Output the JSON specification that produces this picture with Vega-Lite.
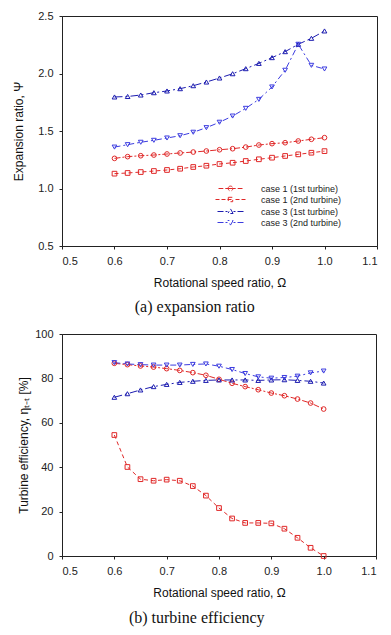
{
  "$schema": "https://vega.github.io/schema/vega-lite/v6.json",
  "padding": {"left": 11, "top": 9, "right": 5, "bottom": 5},
  "background": "white",
  "config": {
    "font": "Liberation Sans",
    "view": {"stroke": "#222", "strokeWidth": 1},
    "axis": {"grid": false, "domainColor": "#222", "tickColor": "#222", "tickSize": 3, "labelFontSize": 11, "labelColor": "#222", "titleFontSize": 12, "titleFontWeight": "normal", "titleColor": "#111", "labelPadding": 6},
    "legend": {"symbolFillColor": "transparent"},
    "concat": {"spacing": 11}
  },
  "datasets": {
    "expansion": [
      {"omega": 0.6, "series": "case 1 (1st turbine)", "value": 1.262},
      {"omega": 0.625, "series": "case 1 (1st turbine)", "value": 1.277},
      {"omega": 0.65, "series": "case 1 (1st turbine)", "value": 1.285},
      {"omega": 0.675, "series": "case 1 (1st turbine)", "value": 1.291},
      {"omega": 0.7, "series": "case 1 (1st turbine)", "value": 1.3},
      {"omega": 0.725, "series": "case 1 (1st turbine)", "value": 1.309},
      {"omega": 0.75, "series": "case 1 (1st turbine)", "value": 1.317},
      {"omega": 0.775, "series": "case 1 (1st turbine)", "value": 1.326},
      {"omega": 0.8, "series": "case 1 (1st turbine)", "value": 1.337},
      {"omega": 0.825, "series": "case 1 (1st turbine)", "value": 1.346},
      {"omega": 0.85, "series": "case 1 (1st turbine)", "value": 1.36},
      {"omega": 0.875, "series": "case 1 (1st turbine)", "value": 1.378},
      {"omega": 0.9, "series": "case 1 (1st turbine)", "value": 1.39},
      {"omega": 0.925, "series": "case 1 (1st turbine)", "value": 1.398},
      {"omega": 0.95, "series": "case 1 (1st turbine)", "value": 1.413},
      {"omega": 0.975, "series": "case 1 (1st turbine)", "value": 1.428},
      {"omega": 1.0, "series": "case 1 (1st turbine)", "value": 1.442},
      {"omega": 0.6, "series": "case 1 (2nd turbine)", "value": 1.129},
      {"omega": 0.625, "series": "case 1 (2nd turbine)", "value": 1.135},
      {"omega": 0.65, "series": "case 1 (2nd turbine)", "value": 1.143},
      {"omega": 0.675, "series": "case 1 (2nd turbine)", "value": 1.152},
      {"omega": 0.7, "series": "case 1 (2nd turbine)", "value": 1.161},
      {"omega": 0.725, "series": "case 1 (2nd turbine)", "value": 1.172},
      {"omega": 0.75, "series": "case 1 (2nd turbine)", "value": 1.187},
      {"omega": 0.775, "series": "case 1 (2nd turbine)", "value": 1.198},
      {"omega": 0.8, "series": "case 1 (2nd turbine)", "value": 1.213},
      {"omega": 0.825, "series": "case 1 (2nd turbine)", "value": 1.224},
      {"omega": 0.85, "series": "case 1 (2nd turbine)", "value": 1.239},
      {"omega": 0.875, "series": "case 1 (2nd turbine)", "value": 1.254},
      {"omega": 0.9, "series": "case 1 (2nd turbine)", "value": 1.268},
      {"omega": 0.925, "series": "case 1 (2nd turbine)", "value": 1.283},
      {"omega": 0.95, "series": "case 1 (2nd turbine)", "value": 1.297},
      {"omega": 0.975, "series": "case 1 (2nd turbine)", "value": 1.311},
      {"omega": 1.0, "series": "case 1 (2nd turbine)", "value": 1.325},
      {"omega": 0.6, "series": "case 3 (1st turbine)", "value": 1.796},
      {"omega": 0.625, "series": "case 3 (1st turbine)", "value": 1.8},
      {"omega": 0.65, "series": "case 3 (1st turbine)", "value": 1.813},
      {"omega": 0.675, "series": "case 3 (1st turbine)", "value": 1.833},
      {"omega": 0.7, "series": "case 3 (1st turbine)", "value": 1.848},
      {"omega": 0.725, "series": "case 3 (1st turbine)", "value": 1.868},
      {"omega": 0.75, "series": "case 3 (1st turbine)", "value": 1.894},
      {"omega": 0.775, "series": "case 3 (1st turbine)", "value": 1.926},
      {"omega": 0.8, "series": "case 3 (1st turbine)", "value": 1.961},
      {"omega": 0.825, "series": "case 3 (1st turbine)", "value": 1.998},
      {"omega": 0.85, "series": "case 3 (1st turbine)", "value": 2.042},
      {"omega": 0.875, "series": "case 3 (1st turbine)", "value": 2.088},
      {"omega": 0.9, "series": "case 3 (1st turbine)", "value": 2.138},
      {"omega": 0.925, "series": "case 3 (1st turbine)", "value": 2.19},
      {"omega": 0.95, "series": "case 3 (1st turbine)", "value": 2.254},
      {"omega": 0.975, "series": "case 3 (1st turbine)", "value": 2.306},
      {"omega": 1.0, "series": "case 3 (1st turbine)", "value": 2.37},
      {"omega": 0.6, "series": "case 3 (2nd turbine)", "value": 1.36},
      {"omega": 0.625, "series": "case 3 (2nd turbine)", "value": 1.381},
      {"omega": 0.65, "series": "case 3 (2nd turbine)", "value": 1.402},
      {"omega": 0.675, "series": "case 3 (2nd turbine)", "value": 1.419},
      {"omega": 0.7, "series": "case 3 (2nd turbine)", "value": 1.439},
      {"omega": 0.725, "series": "case 3 (2nd turbine)", "value": 1.459},
      {"omega": 0.75, "series": "case 3 (2nd turbine)", "value": 1.489},
      {"omega": 0.775, "series": "case 3 (2nd turbine)", "value": 1.529},
      {"omega": 0.8, "series": "case 3 (2nd turbine)", "value": 1.576},
      {"omega": 0.825, "series": "case 3 (2nd turbine)", "value": 1.63},
      {"omega": 0.85, "series": "case 3 (2nd turbine)", "value": 1.697},
      {"omega": 0.875, "series": "case 3 (2nd turbine)", "value": 1.775},
      {"omega": 0.9, "series": "case 3 (2nd turbine)", "value": 1.883},
      {"omega": 0.925, "series": "case 3 (2nd turbine)", "value": 2.028},
      {"omega": 0.95, "series": "case 3 (2nd turbine)", "value": 2.254},
      {"omega": 0.975, "series": "case 3 (2nd turbine)", "value": 2.071},
      {"omega": 1.0, "series": "case 3 (2nd turbine)", "value": 2.039}
    ],
    "efficiency": [
      {"omega": 0.6, "series": "case 1 (1st turbine)", "value": 86.8},
      {"omega": 0.625, "series": "case 1 (1st turbine)", "value": 86.2},
      {"omega": 0.65, "series": "case 1 (1st turbine)", "value": 85.6},
      {"omega": 0.675, "series": "case 1 (1st turbine)", "value": 85.1},
      {"omega": 0.7, "series": "case 1 (1st turbine)", "value": 84.4},
      {"omega": 0.725, "series": "case 1 (1st turbine)", "value": 83.6},
      {"omega": 0.75, "series": "case 1 (1st turbine)", "value": 82.6},
      {"omega": 0.775, "series": "case 1 (1st turbine)", "value": 81.4},
      {"omega": 0.8, "series": "case 1 (1st turbine)", "value": 79.6},
      {"omega": 0.825, "series": "case 1 (1st turbine)", "value": 77.8},
      {"omega": 0.85, "series": "case 1 (1st turbine)", "value": 76.3},
      {"omega": 0.875, "series": "case 1 (1st turbine)", "value": 74.9},
      {"omega": 0.9, "series": "case 1 (1st turbine)", "value": 73.4},
      {"omega": 0.925, "series": "case 1 (1st turbine)", "value": 72.2},
      {"omega": 0.95, "series": "case 1 (1st turbine)", "value": 70.7},
      {"omega": 0.975, "series": "case 1 (1st turbine)", "value": 68.9},
      {"omega": 1.0, "series": "case 1 (1st turbine)", "value": 66.2},
      {"omega": 0.6, "series": "case 1 (2nd turbine)", "value": 54.5},
      {"omega": 0.625, "series": "case 1 (2nd turbine)", "value": 40.1},
      {"omega": 0.65, "series": "case 1 (2nd turbine)", "value": 34.6},
      {"omega": 0.675, "series": "case 1 (2nd turbine)", "value": 33.9},
      {"omega": 0.7, "series": "case 1 (2nd turbine)", "value": 34.4},
      {"omega": 0.725, "series": "case 1 (2nd turbine)", "value": 33.9},
      {"omega": 0.75, "series": "case 1 (2nd turbine)", "value": 31.5},
      {"omega": 0.775, "series": "case 1 (2nd turbine)", "value": 27.2},
      {"omega": 0.8, "series": "case 1 (2nd turbine)", "value": 21.6},
      {"omega": 0.825, "series": "case 1 (2nd turbine)", "value": 16.9},
      {"omega": 0.85, "series": "case 1 (2nd turbine)", "value": 14.9},
      {"omega": 0.875, "series": "case 1 (2nd turbine)", "value": 14.9},
      {"omega": 0.9, "series": "case 1 (2nd turbine)", "value": 14.7},
      {"omega": 0.925, "series": "case 1 (2nd turbine)", "value": 12.3},
      {"omega": 0.95, "series": "case 1 (2nd turbine)", "value": 8.2},
      {"omega": 0.975, "series": "case 1 (2nd turbine)", "value": 3.7},
      {"omega": 1.0, "series": "case 1 (2nd turbine)", "value": 0},
      {"omega": 0.6, "series": "case 3 (1st turbine)", "value": 71.5},
      {"omega": 0.625, "series": "case 3 (1st turbine)", "value": 73.1},
      {"omega": 0.65, "series": "case 3 (1st turbine)", "value": 74.8},
      {"omega": 0.675, "series": "case 3 (1st turbine)", "value": 76.3},
      {"omega": 0.7, "series": "case 3 (1st turbine)", "value": 77.3},
      {"omega": 0.725, "series": "case 3 (1st turbine)", "value": 78.2},
      {"omega": 0.75, "series": "case 3 (1st turbine)", "value": 78.7},
      {"omega": 0.775, "series": "case 3 (1st turbine)", "value": 79.1},
      {"omega": 0.8, "series": "case 3 (1st turbine)", "value": 79.3},
      {"omega": 0.825, "series": "case 3 (1st turbine)", "value": 79.3},
      {"omega": 0.85, "series": "case 3 (1st turbine)", "value": 79.3},
      {"omega": 0.875, "series": "case 3 (1st turbine)", "value": 79.1},
      {"omega": 0.9, "series": "case 3 (1st turbine)", "value": 79.3},
      {"omega": 0.925, "series": "case 3 (1st turbine)", "value": 79.4},
      {"omega": 0.95, "series": "case 3 (1st turbine)", "value": 79.1},
      {"omega": 0.975, "series": "case 3 (1st turbine)", "value": 78.7},
      {"omega": 1.0, "series": "case 3 (1st turbine)", "value": 77.9},
      {"omega": 0.6, "series": "case 3 (2nd turbine)", "value": 87.1},
      {"omega": 0.625, "series": "case 3 (2nd turbine)", "value": 86.5},
      {"omega": 0.65, "series": "case 3 (2nd turbine)", "value": 86.2},
      {"omega": 0.675, "series": "case 3 (2nd turbine)", "value": 86.0},
      {"omega": 0.7, "series": "case 3 (2nd turbine)", "value": 86.0},
      {"omega": 0.725, "series": "case 3 (2nd turbine)", "value": 86.0},
      {"omega": 0.75, "series": "case 3 (2nd turbine)", "value": 86.3},
      {"omega": 0.775, "series": "case 3 (2nd turbine)", "value": 86.5},
      {"omega": 0.8, "series": "case 3 (2nd turbine)", "value": 85.5},
      {"omega": 0.825, "series": "case 3 (2nd turbine)", "value": 84.0},
      {"omega": 0.85, "series": "case 3 (2nd turbine)", "value": 82.2},
      {"omega": 0.875, "series": "case 3 (2nd turbine)", "value": 80.7},
      {"omega": 0.9, "series": "case 3 (2nd turbine)", "value": 80.1},
      {"omega": 0.925, "series": "case 3 (2nd turbine)", "value": 80.4},
      {"omega": 0.95, "series": "case 3 (2nd turbine)", "value": 81.0},
      {"omega": 0.975, "series": "case 3 (2nd turbine)", "value": 82.5},
      {"omega": 1.0, "series": "case 3 (2nd turbine)", "value": 83.3}
    ]
  },
  "vconcat": [
    {
      "width": 315,
      "height": 230,
      "data": {"name": "expansion"},
      "title": {"text": "(a)  expansion  ratio", "orient": "bottom", "font": "Liberation Serif", "fontSize": 16, "fontWeight": "normal", "color": "#111", "anchor": "middle", "frame": "bounds", "offset": 11},
      "encoding": {
        "x": {"field": "omega", "type": "quantitative", "scale": {"domain": [0.5, 1.1], "nice": false, "zero": false}, "axis": {"values": [0.5, 0.6, 0.7, 0.8, 0.9, 1.0, 1.1], "format": ".1f", "title": "Rotational speed ratio, Ω", "titlePadding": 11}},
        "y": {"field": "value", "type": "quantitative", "scale": {"domain": [0.5, 2.5], "nice": false, "zero": false}, "axis": {"values": [0.5, 1.0, 1.5, 2.0, 2.5], "format": ".1f", "title": "Expansion ratio, Ψ", "titlePadding": 13, "minExtent": 24, "maxExtent": 24}},
        "color": {"field": "series", "type": "nominal", "scale": {"domain": ["case 1 (1st turbine)", "case 1 (2nd turbine)", "case 3 (1st turbine)", "case 3 (2nd turbine)"], "range": ["#e02828", "#e02828", "#1c1cb0", "#3c3ce0"]},
          "legend": {"title": null, "orient": "none", "legendX": 164, "legendY": 168, "labelFontSize": 9, "labelColor": "#222", "symbolSize": 16, "labelOffset": 26, "rowPadding": 1, "symbolStrokeWidth": 1, "symbolFillColor": "transparent",
            "symbolType": {"expr": "datum.value === 'case 1 (1st turbine)' ? 'M-6,0H-3.6M-2.6,0H-1.2M1.2,0H2.6M3.6,0H6M-1.2,0A1.2,1.2 0 1,1 1.2,0A1.2,1.2 0 1,1 -1.2,0M-1.2,0H1.2' : datum.value === 'case 1 (2nd turbine)' ? 'M-7.5,0H-5.5M-4.5,0H-2.5M-1.5,0H1.5M2.5,0H4.5M5.5,0H7.5M-1.1,-1.1H1.1V1.1H-1.1Z' : datum.value === 'case 3 (1st turbine)' ? 'M-6.5,0H-3.5M-2.5,0H-1.5M1.5,0H2.5M3.5,0H6.5M0,-1.3L1.3,1H-1.3Z' : 'M-6.5,0H-3.5M-2.5,0H-1.5M1.5,0H2.5M3.5,0H6.5M0,1.3L1.3,-1H-1.3Z'"}}}
      },
      "layer": [
        {"mark": {"type": "line", "strokeWidth": 1},
         "encoding": {"strokeDash": {"field": "series", "type": "nominal", "legend": null, "scale": {"domain": ["case 1 (1st turbine)", "case 1 (2nd turbine)", "case 3 (1st turbine)", "case 3 (2nd turbine)"], "range": [[6, 2, 2, 2], [4, 3], [8, 3, 2, 3], [6, 3, 2, 3]]}}}},
        {"transform": [{"filter": {"field": "series", "equal": "case 1 (1st turbine)"}}], "mark": {"type": "point", "shape": "circle", "filled": false, "size": 22, "strokeWidth": 1, "opacity": 1}},
        {"transform": [{"filter": {"field": "series", "equal": "case 1 (2nd turbine)"}}], "mark": {"type": "point", "shape": "square", "filled": false, "size": 22, "strokeWidth": 1, "opacity": 1}},
        {"transform": [{"filter": {"field": "series", "equal": "case 3 (1st turbine)"}}], "mark": {"type": "point", "shape": "triangle-up", "filled": false, "size": 22, "strokeWidth": 1, "opacity": 1}},
        {"transform": [{"filter": {"field": "series", "equal": "case 3 (2nd turbine)"}}], "mark": {"type": "point", "shape": "triangle-down", "filled": false, "size": 22, "strokeWidth": 1, "opacity": 1}}
      ]
    },
    {
      "width": 314,
      "height": 222,
      "data": {"name": "efficiency"},
      "title": {"text": "(b)  turbine  efficiency", "orient": "bottom", "font": "Liberation Serif", "fontSize": 16, "fontWeight": "normal", "color": "#111", "anchor": "middle", "frame": "bounds", "offset": 12},
      "encoding": {
        "x": {"field": "omega", "type": "quantitative", "scale": {"domain": [0.5, 1.1], "nice": false, "zero": false}, "axis": {"values": [0.5, 0.6, 0.7, 0.8, 0.9, 1.0, 1.1], "format": ".1f", "title": "Rotational speed ratio, Ω", "titlePadding": 11}},
        "y": {"field": "value", "type": "quantitative", "scale": {"domain": [0, 100], "nice": false}, "axis": {"values": [0, 20, 40, 60, 80, 100], "title": "Turbine efficiency, ηₜ₋ₜ [%]", "titlePadding": 4, "minExtent": 28, "maxExtent": 28}},
        "color": {"field": "series", "type": "nominal", "scale": {"domain": ["case 1 (1st turbine)", "case 1 (2nd turbine)", "case 3 (1st turbine)", "case 3 (2nd turbine)"], "range": ["#e02828", "#e02828", "#1c1cb0", "#3c3ce0"]},
          "legend": {"title": null, "orient": "none", "legendX": 183, "legendY": 107, "labelFontSize": 9, "labelColor": "#222", "symbolSize": 16, "labelOffset": 26, "rowPadding": 1, "symbolStrokeWidth": 1, "symbolFillColor": "transparent",
            "symbolType": {"expr": "datum.value === 'case 1 (1st turbine)' ? 'M-6,0H-3.6M-2.6,0H-1.2M1.2,0H2.6M3.6,0H6M-1.2,0A1.2,1.2 0 1,1 1.2,0A1.2,1.2 0 1,1 -1.2,0M-1.2,0H1.2' : datum.value === 'case 1 (2nd turbine)' ? 'M-7.5,0H-5.5M-4.5,0H-2.5M-1.5,0H1.5M2.5,0H4.5M5.5,0H7.5M-1.1,-1.1H1.1V1.1H-1.1Z' : datum.value === 'case 3 (1st turbine)' ? 'M-6.5,0H-3.5M-2.5,0H-1.5M1.5,0H2.5M3.5,0H6.5M0,-1.3L1.3,1H-1.3Z' : 'M-6.5,0H-3.5M-2.5,0H-1.5M1.5,0H2.5M3.5,0H6.5M0,1.3L1.3,-1H-1.3Z'"}}}
      },
      "layer": [
        {"mark": {"type": "line", "strokeWidth": 1},
         "encoding": {"strokeDash": {"field": "series", "type": "nominal", "legend": null, "scale": {"domain": ["case 1 (1st turbine)", "case 1 (2nd turbine)", "case 3 (1st turbine)", "case 3 (2nd turbine)"], "range": [[6, 2, 2, 2], [4, 3], [8, 3, 2, 3], [6, 3, 2, 3]]}}}},
        {"transform": [{"filter": {"field": "series", "equal": "case 1 (1st turbine)"}}], "mark": {"type": "point", "shape": "circle", "filled": false, "size": 22, "strokeWidth": 1, "opacity": 1}},
        {"transform": [{"filter": {"field": "series", "equal": "case 1 (2nd turbine)"}}], "mark": {"type": "point", "shape": "square", "filled": false, "size": 22, "strokeWidth": 1, "opacity": 1}},
        {"transform": [{"filter": {"field": "series", "equal": "case 3 (1st turbine)"}}], "mark": {"type": "point", "shape": "triangle-up", "filled": false, "size": 22, "strokeWidth": 1, "opacity": 1}},
        {"transform": [{"filter": {"field": "series", "equal": "case 3 (2nd turbine)"}}], "mark": {"type": "point", "shape": "triangle-down", "filled": false, "size": 22, "strokeWidth": 1, "opacity": 1}}
      ]
    }
  ]
}
